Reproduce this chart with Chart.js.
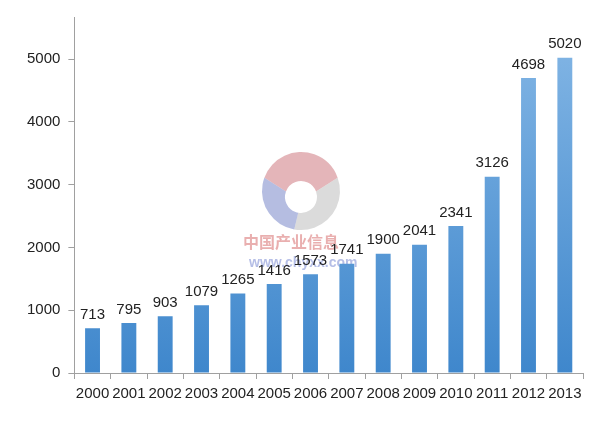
<!DOCTYPE html>
<html>
<head>
<meta charset="utf-8">
<script src="https://cdn.jsdelivr.net/npm/chart.js@4/dist/chart.umd.min.js"></script>
<style>
  html, body { margin: 0; padding: 0; background: #fff; }
  #wrap { width: 600px; height: 421px; }
</style>
</head>
<body>
<div id="wrap"><canvas id="chart"></canvas></div>
<script>
var years = ['2000','2001','2002','2003','2004','2005','2006','2007','2008','2009','2010','2011','2012','2013'];
var values = [713, 795, 903, 1079, 1265, 1416, 1573, 1741, 1900, 2041, 2341, 3126, 4698, 5020];
var yTicks = [0, 1000, 2000, 3000, 4000, 5000];

// value labels above bars
var barLabels = {
    id: 'barLabels',
    afterDatasetsDraw: function(chart) {
        var ctx = chart.ctx;
        var meta = chart.getDatasetMeta(0);
        ctx.save();
        ctx.font = '15px "Liberation Sans", Arial, sans-serif';
        ctx.fillStyle = '#222';
        ctx.textAlign = 'center';
        ctx.textBaseline = 'bottom';
        meta.data.forEach(function(bar, i) {
            ctx.fillText(values[i], bar.x, bar.y - 6);
        });
        ctx.restore();
    }
};

// faint watermark in the middle
var watermark = {
    id: 'watermark',
    beforeDatasetsDraw: function(chart) {
        var ctx = chart.ctx;
        var cx = 301, cy = 191, r = 39, ri = 16;
        var parts = [
            ['rgba(205,120,128,0.55)', -160, -20],
            ['rgba(190,190,190,0.55)', -20, 100],
            ['rgba(120,135,200,0.55)', 100, 200]
        ];
        ctx.save();
        parts.forEach(function(p) {
            ctx.beginPath();
            ctx.arc(cx, cy, r, p[1] * Math.PI / 180, p[2] * Math.PI / 180);
            ctx.arc(cx, cy + 6, ri, p[2] * Math.PI / 180, p[1] * Math.PI / 180, true);
            ctx.closePath();
            ctx.fillStyle = p[0];
            ctx.fill();
        });
        ctx.font = 'bold 16px "Noto Sans CJK SC", sans-serif';
        ctx.fillStyle = 'rgba(215,110,110,0.55)';
        ctx.textAlign = 'left';
        ctx.textBaseline = 'middle';
        ctx.fillText('中国产业信息', 243, 242);
        ctx.font = 'bold 14px "Liberation Sans", Arial, sans-serif';
        ctx.fillStyle = 'rgba(90,110,200,0.45)';
        ctx.fillText('www.chyxx.com', 249, 263);
        ctx.restore();
    }
};

function barGradient(context) {
    var chart = context.chart;
    var area = chart.chartArea;
    if (!area) return '#5b9bd5';
    var g = chart.ctx.createLinearGradient(0, area.top, 0, area.bottom);
    g.addColorStop(0, '#86b8e6');
    g.addColorStop(1, '#3f87cc');
    return g;
}

new Chart(document.getElementById('chart'), {
    type: 'bar',
    data: {
        labels: years,
        datasets: [{
            data: values,
            backgroundColor: barGradient,
            borderWidth: 0,
            barPercentage: 0.41,
            categoryPercentage: 1
        }]
    },
    options: {
        responsive: true,
        maintainAspectRatio: false,
        animation: false,
        layout: { padding: { left: 19, right: 17, top: 10, bottom: 12 } },
        plugins: {
            legend: { display: false },
            tooltip: { enabled: false }
        },
        scales: {
            x: {
                grid: { offset: true, drawOnChartArea: false, tickLength: 6, color: '#a0a0a0' },
                border: { color: '#a0a0a0' },
                ticks: {
                    autoSkip: false, maxRotation: 0, minRotation: 0, padding: 6,
                    color: '#222',
                    font: { size: 15, family: '"Liberation Sans", Arial, sans-serif' }
                }
            },
            y: {
                min: 0,
                max: 5670,
                afterBuildTicks: function(axis) {
                    axis.ticks = yTicks.map(function(v) { return { value: v }; });
                },
                grid: { drawOnChartArea: false, tickLength: 6, color: '#a0a0a0' },
                border: { color: '#a0a0a0' },
                ticks: {
                    padding: 8,
                    color: '#222',
                    font: { size: 15, family: '"Liberation Sans", Arial, sans-serif' },
                    callback: function(v) { return String(v); }
                }
            }
        }
    },
    plugins: [barLabels, watermark]
});
</script>
</body>
</html>
